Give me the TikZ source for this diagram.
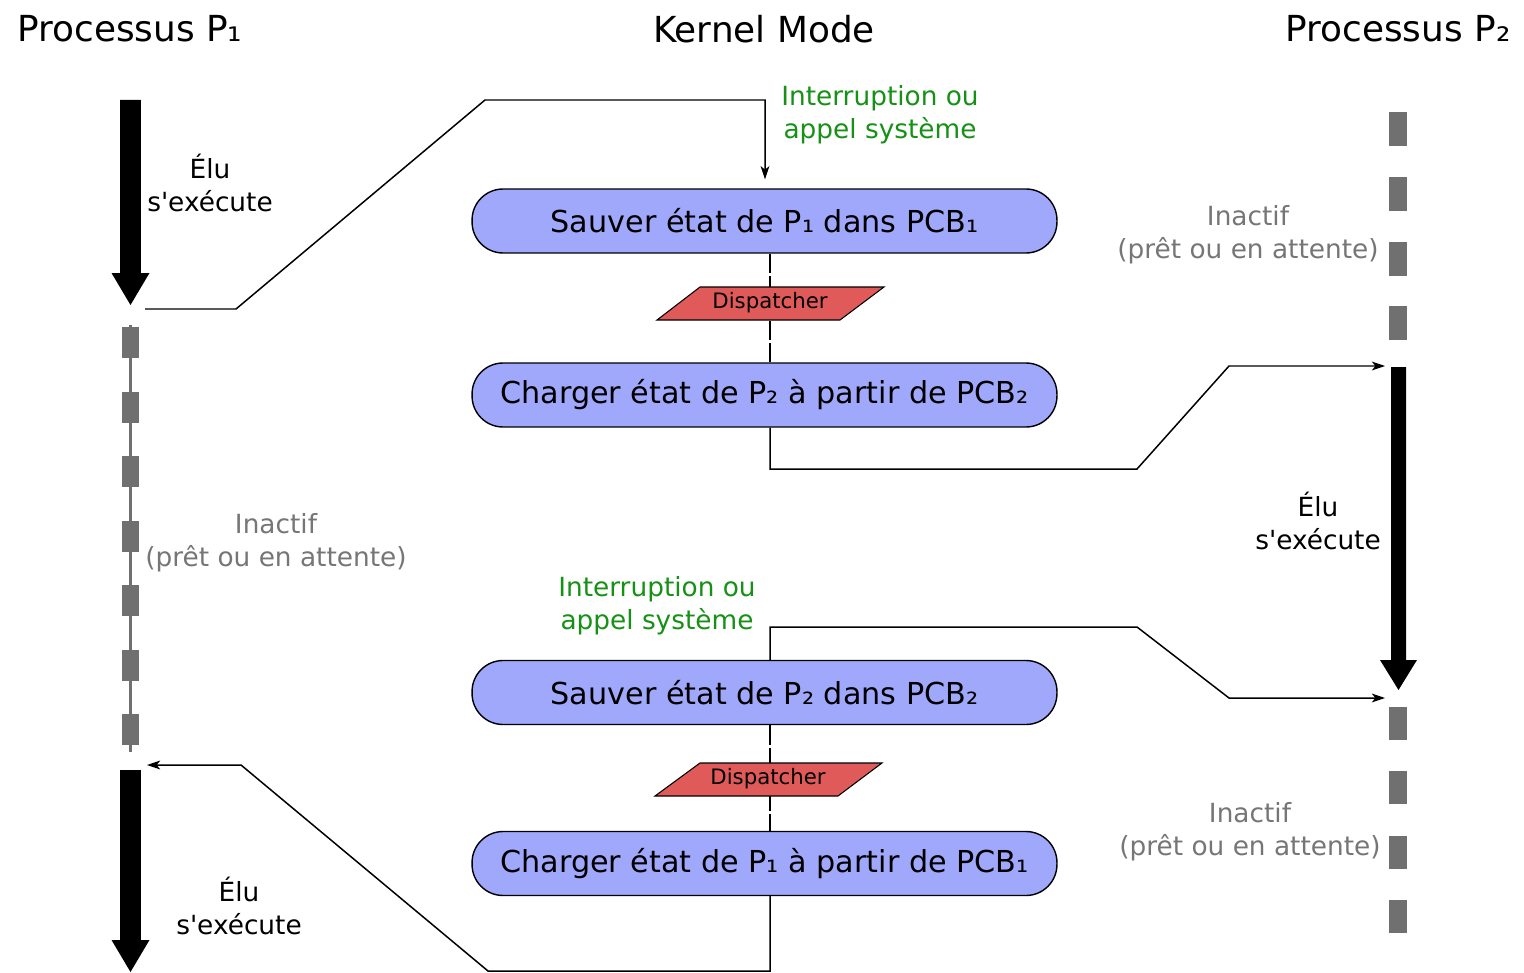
\documentclass[tikz,border=0pt]{standalone}
\usepackage{fontspec}
\setmainfont{DejaVu Sans}[Ligatures=TeXOff]
\usetikzlibrary{arrows.meta,calc}
\definecolor{boxblue}{RGB}{160,168,252}
\definecolor{dispred}{RGB}{224,90,90}
\definecolor{lanegray}{RGB}{112,112,112}
\definecolor{inactgray}{RGB}{118,118,118}
\definecolor{intgreen}{RGB}{22,145,22}
\newcommand{\tharrow}[6]{% x, ytop, ytip, half shaft, half head, head length
  \fill[black] (#1-#4,#2) -- (#1+#4,#2) -- (#1+#4,#3-#6) -- (#1+#5,#3-#6) -- (#1,#3) -- (#1-#5,#3-#6) -- (#1-#4,#3-#6) -- cycle;}
\begin{document}
\begin{tikzpicture}[x=0.02cm,y=-0.02cm,
  titlestyle/.style={inner sep=0pt, font=\fontsize{20.4}{24}\selectfont},
  kbox/.style={draw=black, line width=0.8pt, fill=boxblue, rounded corners=0.62cm,
    minimum width=11.7cm, minimum height=1.28cm, inner sep=0pt,
    font=\fontsize{17.2}{20}\selectfont},
  lbl/.style={inner sep=0pt, align=center, font=\fontsize{15}{18.7}\selectfont},
  inact/.style={lbl, text=inactgray},
  intr/.style={lbl, text=intgreen},
  disptext/.style={inner sep=0pt, font=\fontsize{12.1}{14}\selectfont},
  dispshape/.style={fill=dispred, draw=black, line width=0.6pt},
  conn/.style={draw=black, line width=0.85pt},
  arr/.style={conn, -{Stealth[length=7.5pt,width=5pt,inset=2pt]}},
  dashline/.style={draw=black, line width=0.8pt, dash pattern=on 11pt off 1.7pt}
]
\useasboundingbox[fill=white] (0,0) rectangle (1524,973);

% titles
\node[titlestyle] (t1) at (130,29) {Processus P₁};
\node[titlestyle] (t2) at (764,29) {Kernel Mode};
\node[titlestyle] (t3) at (1398,29) {Processus P₂};

% column helper coordinates
\coordinate (k) at (770,0);
\coordinate (p1stop) at (145,309);
\coordinate (p1start) at (147,765);
\coordinate (p2start) at (1385,366);
\coordinate (p2stop) at (1385,698);

% P1 lane
\tharrow{130.5}{100}{305}{10.3}{19}{32}
\draw[lanegray, line width=1.4pt] (130.5,325) -- (130.5,752);
\foreach \i in {0,...,6} \fill[lanegray] (122.3,327+64.5*\i) rectangle ++(16.6,31);
\tharrow{130.5}{770}{972}{10.3}{19}{32}

% P2 lane
\foreach \yy in {112,177,242,306} \fill[lanegray] (1389,\yy) rectangle ++(18,34);
\tharrow{1398.5}{367}{690}{7.5}{18.5}{30}
\foreach \yy in {707,771,836,900} \fill[lanegray] (1389,\yy) rectangle ++(18,33);

% kernel boxes
\node[kbox] (s1) at (764.5,221) {Sauver état de P₁ dans PCB₁};
\node[kbox] (c2) at (764.5,395) {Charger état de P₂ à partir de PCB₂};
\node[kbox] (s3) at (764.5,692.5) {Sauver état de P₂ dans PCB₂};
\node[kbox] (c4) at (764.5,863.5) {Charger état de P₁ à partir de PCB₁};

% dispatchers
\draw[dashline] (s1.south -| k) -- (c2.north -| k);
\filldraw[dispshape] (657,320) -- (700,287) -- (884,287) -- (840,320) -- cycle;
\node[disptext] (d1) at (770,303) {Dispatcher};
\draw[dashline] (s3.south -| k) -- (c4.north -| k);
\filldraw[dispshape] (655,796) -- (700,763) -- (882,763) -- (838,796) -- cycle;
\node[disptext] (d2) at (768,779) {Dispatcher};

% connectors
\coordinate (s1in) at ($(s1.north)+(0.5,-9)$);
\draw[arr] (p1stop) -- (236,309) -- (485,100) -- (765,100) -- (s1in);
\draw[arr] (c2.south -| k) -- (770,469) -- (1137,469) -- (1229,366) -- (p2start);
\draw[arr] (s3.north -| k) -- (770,627) -- (1137,627) -- (1229,698) -- (p2stop);
\draw[arr] (c4.south -| k) -- (770,971) -- (488,971) -- (241,765) -- (p1start);

% labels
\node[lbl] (e1) at (210,183) {Élu\\s'exécute};
\node[lbl] (e2) at (1318,521) {Élu\\s'exécute};
\node[lbl] (e3) at (239,906) {Élu\\s'exécute};
\node[inact] (i1) at (276,543) {Inactif\\(prêt ou en attente)};
\node[inact] (i2) at (1248,235) {Inactif\\(prêt ou en attente)};
\node[inact] (i3) at (1250,832) {Inactif\\(prêt ou en attente)};
\node[intr] (g1) at (880,115) {Interruption ou\\appel système};
\node[intr] (g2) at (657,606) {Interruption ou\\appel système};
\end{tikzpicture}
\end{document}
